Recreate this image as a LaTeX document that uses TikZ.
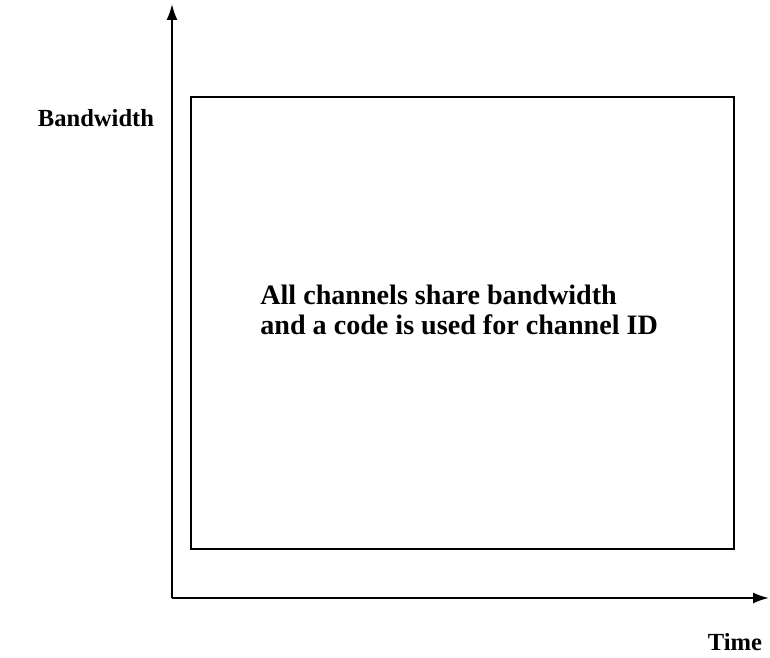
\documentclass[tikz,border=0pt]{standalone}
\usepackage{fontspec}
\setmainfont{Liberation Serif}
\usetikzlibrary{arrows.meta,positioning}

\begin{document}
\begin{tikzpicture}[
  x=0.02cm, y=-0.02cm,
  axis/.style={-{Latex[length=3.2mm,width=2.2mm]}, line width=1.1pt},
  label/.style={font=\bfseries\fontsize{14}{17}\selectfont, inner sep=0pt},
  box/.style={draw, line width=1.1pt}
]
\useasboundingbox (0,0) rectangle (770,658);
\coordinate (O) at (172,598);
\coordinate (Ytop) at (172,4);
\coordinate (Xend) at (769,598);
\draw[axis] (O) -- (Ytop);
\draw[axis] (O) -- (Xend);
\node[box, minimum width=543*0.02cm, minimum height=452*0.02cm, inner sep=0pt] (share) at (462.5,323) {};
\node[label, font=\bfseries\fontsize{16}{17}\selectfont, align=left, anchor=west] (desc) at (260,310) {All channels share bandwidth\\and a code is used for channel ID};
\node[label] (bw) at (96,118) {Bandwidth};
\node[label] (time) at (735,642) {Time};
\end{tikzpicture}
\end{document}
